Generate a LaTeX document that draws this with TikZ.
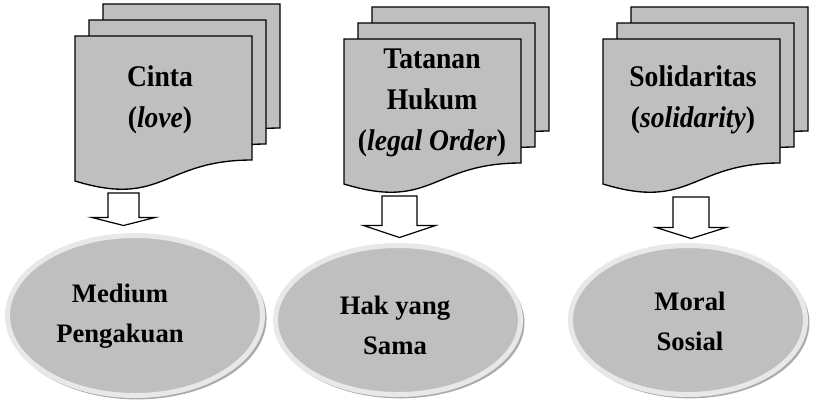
\documentclass[tikz,border=0pt]{standalone}
\usepackage{fontspec}
\setmainfont{Liberation Serif}
\newfontfamily\tallfont{Liberation Serif}[FakeStretch=0.92]
\usetikzlibrary{calc,shapes.geometric,shadows}

% top point, tip point, half shaft, half head, head length
\newcommand{\blockarrow}[5]{%
  \draw[blockarr] ($(#1)+(-#3,0)$) -- ($(#1)+(#3,0)$) -- ($(#2)+(#3,-#5)$) -- ($(#2)+(#4,-#5)$)
    -- (#2) -- ($(#2)+(-#4,-#5)$) -- ($(#2)+(-#3,-#5)$) -- cycle;}

\begin{document}
\begin{tikzpicture}[x=0.75pt, y=-0.75pt,
        page/.style={draw=black, fill=black!25, line width=1pt, line join=miter},
        doctext/.style={align=center, font=\tallfont\fontsize{22.5}{30.5}\selectfont\bfseries, inner sep=0pt},
        ovaltext/.style={align=center, font=\fontsize{20}{30}\selectfont\bfseries, inner sep=0pt},
        oval/.style={ellipse, draw=black!9, line width=3.75pt, fill=black!25, inner sep=0pt,
            drop shadow={shadow xshift=1.6pt, shadow yshift=-2pt, shadow scale=1.015, fill=black!55, opacity=0.6}},
        blockarr/.style={draw=black, fill=white, line width=0.9pt, line join=miter}
    ]
        \useasboundingbox (0,0) rectangle (813,401);

        \foreach \px/\py in {75/36, 344/39, 603/39} {
            \foreach \k in {2,1,0} {
                \begin{scope}[shift={(\px+14*\k,\py-16*\k)}]
                    \draw[page] (0,0) -- (177,0) -- (177,124) .. controls (88,124) and (88,172) .. (0,145) -- cycle;
                \end{scope}
            }
        }

        \node[doctext] (cinta) at (160,100) {Cinta\\(\textit{love})};
        \node[doctext] (hukum) at (432,103) {Tatanan\\Hukum\\(\textit{legal Order})};
        \node[doctext] (solid) at (693,99.5) {Solidaritas\\(\textit{solidarity})};

        \node[oval, minimum width=191.25pt, minimum height=120pt] (medium) at (135,315.5) {};
        \node[oval, minimum width=183.75pt, minimum height=111.75pt] (hak) at (398,320) {};
        \node[oval, minimum width=176.25pt, minimum height=111.75pt] (moral) at (688,320) {};

        \node[ovaltext] (mediumtxt) at (120,316) {Medium\\Pengakuan};
        \node[ovaltext] (haktxt) at (395,325) {Hak yang\\Sama};
        \node[ovaltext] (moraltxt) at (690,321) {Moral\\Sosial};

        \coordinate (topA) at (123.5,193);
        \coordinate (topB) at (399.5,196);
        \coordinate (topC) at (691,197);
        \coordinate (tipA) at ($(topA |- medium.north)+(0,-7.5)$);
        \coordinate (tipB) at ($(topB |- hak.north)+(0,-5.5)$);
        \coordinate (tipC) at ($(topC |- moral.north)+(0,-4.5)$);

        \blockarrow{topA}{tipA}{15.5}{31.5}{8}
        \blockarrow{topB}{tipB}{17.5}{36}{12}
        \blockarrow{topC}{tipC}{18}{35}{11}
    \end{tikzpicture}
\end{document}
